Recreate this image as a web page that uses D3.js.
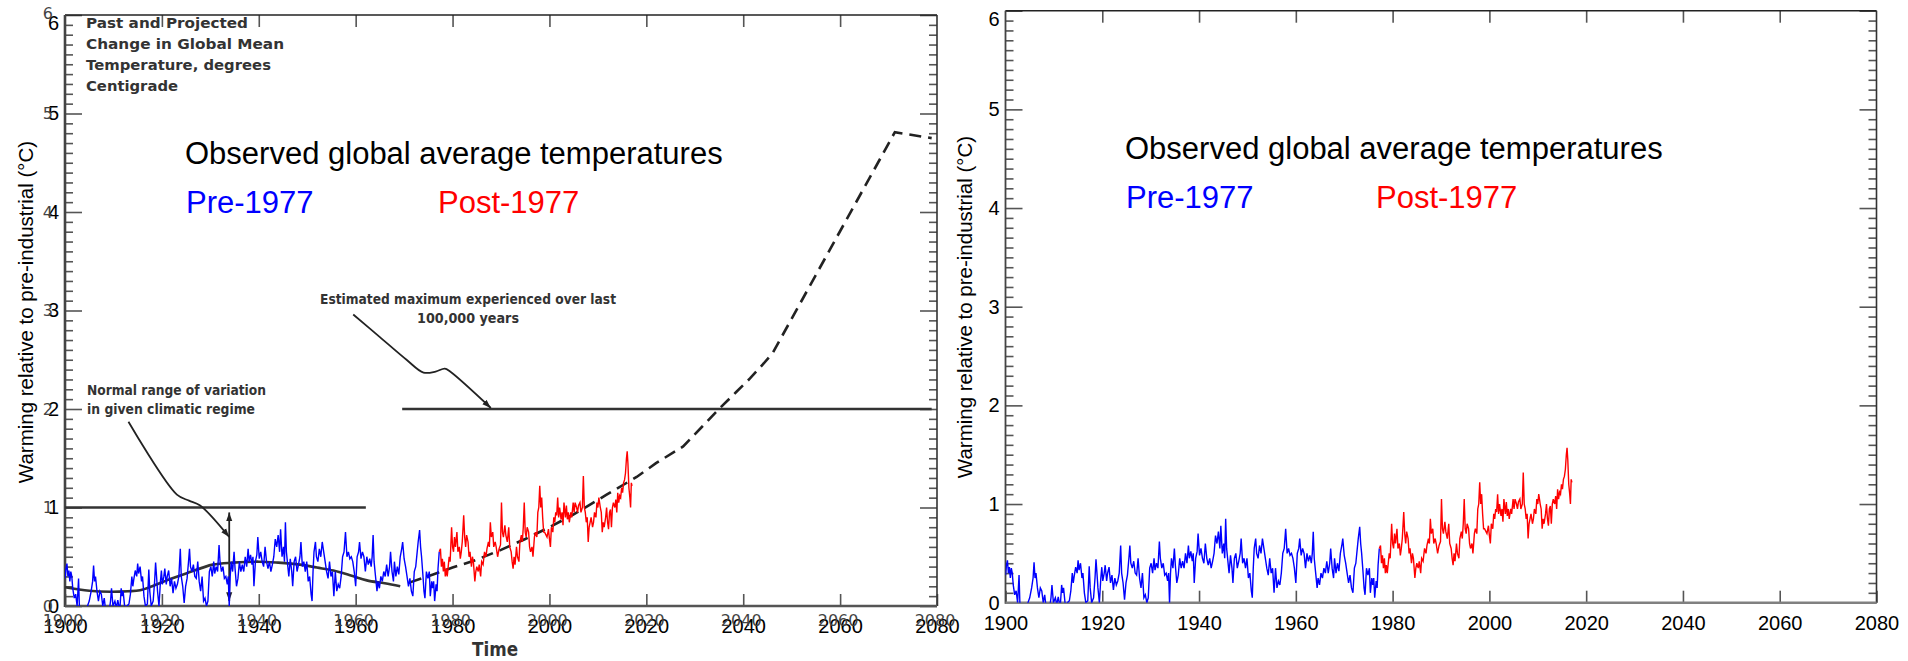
<!DOCTYPE html>
<html>
<head>
<meta charset="utf-8">
<style>
body { margin: 0; background: #fff; }
svg { display: block; }
</style>
</head>
<body>

<svg width="1908" height="661" id="chart"></svg>

<script src="https://cdnjs.cloudflare.com/ajax/libs/d3/7.8.5/d3.min.js"></script>
<script>
// observed global temperature, [year, warming degC]
var pre1977 = [[1900.0,0.28],[1900.2,0.38],[1900.4,0.43],[1900.6,0.3],[1900.8,0.36],[1901.0,0.25],[1901.2,0.35],[1901.4,0.3],[1901.6,0.18],[1901.9,0.08],[1902.2,0.12],[1902.5,0.0],[1902.8,0.28],[1903.0,-0.05],[1903.5,-0.1],[1904.0,-0.1],[1904.5,-0.02],[1905.0,0.05],[1905.4,0.15],[1905.7,0.25],[1905.9,0.41],[1906.1,0.25],[1906.3,0.3],[1906.6,0.15],[1906.9,0.05],[1907.2,0.15],[1907.5,0.12],[1907.8,0.0],[1908.1,0.08],[1908.4,-0.05],[1909.0,-0.1],[1909.4,0.05],[1909.6,0.18],[1909.9,0.0],[1910.3,0.05],[1910.6,-0.02],[1910.9,0.06],[1911.3,-0.05],[1911.6,0.18],[1911.8,0.1],[1912.0,0.15],[1912.4,-0.05],[1912.8,0.0],[1913.2,0.02],[1913.5,0.12],[1913.8,0.3],[1914.0,0.2],[1914.2,0.27],[1914.5,0.36],[1914.8,0.3],[1915.0,0.43],[1915.2,0.33],[1915.5,0.4],[1915.8,0.25],[1916.0,0.3],[1916.3,0.1],[1916.6,0.0],[1917.0,0.02],[1917.3,0.37],[1917.5,0.15],[1917.8,0.0],[1918.2,0.05],[1918.5,0.25],[1918.7,0.44],[1918.9,0.3],[1919.1,0.15],[1919.4,0.0],[1919.7,0.25],[1919.9,0.36],[1920.1,0.22],[1920.4,0.3],[1920.6,0.38],[1920.9,0.22],[1921.1,0.3],[1921.4,0.36],[1921.7,0.2],[1922.0,0.28],[1922.3,0.13],[1922.6,0.25],[1922.9,0.18],[1923.2,0.22],[1923.5,0.3],[1923.8,0.58],[1924.0,0.3],[1924.3,0.2],[1924.6,0.03],[1924.9,0.2],[1925.2,0.28],[1925.5,0.45],[1925.7,0.58],[1925.9,0.4],[1926.2,0.35],[1926.5,0.42],[1926.8,0.3],[1927.1,0.28],[1927.4,0.45],[1927.7,0.25],[1928.0,0.15],[1928.3,0.3],[1928.6,0.05],[1928.9,0.08],[1929.2,0.0],[1929.5,0.05],[1929.8,0.35],[1930.1,0.4],[1930.4,0.3],[1930.7,0.45],[1930.9,0.33],[1931.2,0.4],[1931.5,0.35],[1931.8,0.62],[1932.0,0.45],[1932.3,0.35],[1932.6,0.4],[1932.9,0.28],[1933.2,0.3],[1933.5,0.22],[1933.7,0.3],[1933.9,0.0],[1934.1,0.3],[1934.3,0.45],[1934.6,0.35],[1934.9,0.55],[1935.1,0.38],[1935.4,0.2],[1935.7,0.28],[1936.0,0.45],[1936.3,0.35],[1936.6,0.42],[1936.9,0.35],[1937.2,0.5],[1937.5,0.4],[1937.8,0.58],[1938.0,0.45],[1938.3,0.52],[1938.6,0.42],[1938.8,0.5],[1939.0,0.2],[1939.3,0.45],[1939.6,0.52],[1939.8,0.7],[1940.1,0.48],[1940.4,0.55],[1940.7,0.45],[1941.0,0.4],[1941.3,0.6],[1941.6,0.45],[1941.9,0.38],[1942.2,0.45],[1942.5,0.35],[1942.8,0.42],[1943.1,0.5],[1943.4,0.68],[1943.7,0.6],[1944.0,0.72],[1944.3,0.55],[1944.5,0.78],[1944.8,0.5],[1945.1,0.6],[1945.3,0.45],[1945.5,0.85],[1945.7,0.55],[1945.9,0.45],[1946.2,0.3],[1946.5,0.48],[1946.8,0.35],[1947.0,0.2],[1947.3,0.45],[1947.6,0.5],[1947.9,0.35],[1948.2,0.42],[1948.5,0.5],[1948.7,0.65],[1949.0,0.4],[1949.3,0.45],[1949.6,0.35],[1949.9,0.45],[1950.2,0.25],[1950.5,0.3],[1950.8,0.12],[1951.0,0.05],[1951.2,0.35],[1951.4,0.55],[1951.7,0.65],[1951.9,0.5],[1952.2,0.45],[1952.5,0.58],[1952.8,0.5],[1953.1,0.65],[1953.4,0.55],[1953.7,0.45],[1954.0,0.35],[1954.3,0.28],[1954.6,0.45],[1954.9,0.3],[1955.2,0.35],[1955.5,0.1],[1955.8,0.35],[1956.1,0.15],[1956.4,0.22],[1956.7,0.18],[1957.0,0.3],[1957.3,0.5],[1957.6,0.55],[1957.9,0.75],[1958.2,0.5],[1958.5,0.55],[1958.8,0.48],[1959.1,0.5],[1959.4,0.45],[1959.7,0.35],[1960.0,0.2],[1960.3,0.5],[1960.6,0.55],[1960.8,0.65],[1961.1,0.48],[1961.4,0.55],[1961.7,0.5],[1962.0,0.35],[1962.3,0.5],[1962.6,0.42],[1962.9,0.48],[1963.2,0.4],[1963.4,0.5],[1963.6,0.72],[1963.8,0.45],[1964.1,0.3],[1964.4,0.15],[1964.6,0.25],[1964.9,0.18],[1965.2,0.3],[1965.5,0.25],[1965.8,0.35],[1966.1,0.3],[1966.4,0.42],[1966.7,0.3],[1967.0,0.4],[1967.2,0.55],[1967.5,0.35],[1967.8,0.25],[1968.0,0.45],[1968.3,0.3],[1968.6,0.4],[1968.9,0.32],[1969.2,0.5],[1969.5,0.58],[1969.7,0.65],[1970.0,0.48],[1970.3,0.4],[1970.6,0.3],[1970.9,0.2],[1971.2,0.28],[1971.5,0.15],[1971.8,0.1],[1972.1,0.35],[1972.4,0.4],[1972.7,0.55],[1972.9,0.65],[1973.2,0.77],[1973.4,0.6],[1973.6,0.5],[1973.9,0.3],[1974.1,0.15],[1974.3,0.08],[1974.6,0.35],[1974.9,0.28],[1975.2,0.35],[1975.4,0.1],[1975.7,0.25],[1975.9,0.18],[1976.1,0.25],[1976.3,0.05],[1976.6,0.22],[1976.8,0.15],[1977.0,0.38],[1977.25,0.55]];

var post1977 = [[1977.25,0.55],[1977.5,0.58],[1977.7,0.4],[1977.9,0.48],[1978.1,0.35],[1978.3,0.45],[1978.5,0.3],[1978.7,0.38],[1978.9,0.3],[1979.1,0.4],[1979.3,0.5],[1979.5,0.45],[1979.8,0.8],[1980.0,0.6],[1980.2,0.55],[1980.4,0.7],[1980.6,0.6],[1980.9,0.75],[1981.1,0.55],[1981.4,0.6],[1981.6,0.48],[1981.8,0.55],[1982.0,0.65],[1982.3,0.92],[1982.5,0.7],[1982.7,0.6],[1982.9,0.72],[1983.2,0.65],[1983.4,0.5],[1983.6,0.55],[1983.9,0.4],[1984.1,0.5],[1984.3,0.45],[1984.6,0.25],[1984.8,0.35],[1985.0,0.4],[1985.3,0.35],[1985.5,0.42],[1985.8,0.3],[1986.0,0.45],[1986.3,0.42],[1986.6,0.55],[1986.9,0.5],[1987.1,0.58],[1987.4,0.65],[1987.6,0.6],[1987.8,0.85],[1988.0,0.7],[1988.3,0.75],[1988.5,0.6],[1988.8,0.65],[1989.0,0.6],[1989.3,0.5],[1989.6,0.58],[1989.9,0.62],[1990.1,1.05],[1990.3,0.75],[1990.5,0.7],[1990.8,0.82],[1991.0,0.72],[1991.3,0.65],[1991.6,0.8],[1991.8,0.6],[1992.1,0.55],[1992.3,0.45],[1992.5,0.38],[1992.7,0.5],[1992.9,0.42],[1993.2,0.6],[1993.4,0.5],[1993.7,0.45],[1993.9,0.65],[1994.2,0.72],[1994.4,0.65],[1994.6,0.8],[1994.8,1.05],[1995.0,0.75],[1995.2,0.7],[1995.4,0.8],[1995.7,0.75],[1995.9,0.6],[1996.1,0.55],[1996.4,0.6],[1996.6,0.5],[1996.9,0.7],[1997.1,0.75],[1997.4,0.7],[1997.6,0.95],[1997.8,1.0],[1998.0,1.22],[1998.2,1.0],[1998.4,1.1],[1998.6,0.9],[1998.8,0.75],[1999.0,0.75],[1999.3,0.72],[1999.5,0.7],[1999.8,0.78],[2000.0,0.68],[2000.2,0.6],[2000.4,0.8],[2000.7,0.75],[2000.9,0.9],[2001.1,0.85],[2001.3,0.95],[2001.5,0.92],[2001.7,1.1],[2001.9,0.9],[2002.1,1.0],[2002.4,0.88],[2002.6,0.95],[2002.8,0.82],[2003.0,1.05],[2003.3,0.9],[2003.5,1.02],[2003.7,0.88],[2003.9,0.95],[2004.1,0.85],[2004.4,0.95],[2004.6,0.9],[2004.9,1.05],[2005.1,0.95],[2005.3,1.05],[2005.6,1.0],[2005.8,0.95],[2006.0,1.02],[2006.3,1.05],[2006.5,0.95],[2006.8,1.0],[2007.0,1.32],[2007.2,1.0],[2007.4,0.95],[2007.6,0.85],[2007.8,0.9],[2008.0,0.65],[2008.2,0.8],[2008.4,0.85],[2008.6,0.9],[2008.9,0.8],[2009.1,0.85],[2009.3,0.95],[2009.6,0.9],[2009.8,1.05],[2010.0,1.0],[2010.2,1.1],[2010.5,1.0],[2010.7,0.95],[2010.9,0.75],[2011.1,0.85],[2011.3,0.8],[2011.6,0.9],[2011.8,1.0],[2012.0,0.85],[2012.2,0.78],[2012.4,0.95],[2012.6,0.98],[2012.8,0.8],[2013.0,1.0],[2013.2,1.05],[2013.5,1.0],[2013.7,1.08],[2013.9,0.95],[2014.1,1.15],[2014.3,1.05],[2014.5,1.12],[2014.7,1.1],[2014.9,1.2],[2015.1,1.15],[2015.3,1.25],[2015.5,1.28],[2015.7,1.35],[2015.9,1.5],[2016.05,1.57],[2016.2,1.45],[2016.4,1.2],[2016.6,1.1],[2016.75,1.0],[2016.9,1.25],[2017.05,1.22]];

// the 1982 projection underneath (left panel only)
var projPast = [[1900,0.19],[1905,0.155],[1909.5,0.145],[1913,0.15],[1915.5,0.16],[1918,0.2],[1921,0.26],[1925,0.33],[1930.5,0.42],[1934.7,0.44],[1940,0.45],[1944,0.44],[1948.5,0.42],[1952,0.39],[1955.4,0.36],[1959,0.31],[1962.3,0.26],[1966,0.23],[1969.2,0.2]];
var projFuture = [[1971.2,0.24],[1976,0.32],[1980,0.39],[1985,0.47],[1990,0.57],[1995,0.68],[2000,0.8],[2005,0.93],[2011.8,1.13],[2018,1.31],[2022,1.45],[2027.6,1.62],[2031.5,1.82],[2035.2,2.01],[2038.5,2.17],[2041.4,2.31],[2044,2.45],[2046.1,2.57],[2071.3,4.81],[2078.9,4.75]];
var normalLevel = [[1900,1],[1962.1,1]];
var maxLevel = [[1969.6,2],[2078.9,2]];
var normalRange = [[1933.9,0.05],[1933.9,0.95]];
var normalPointer = [[1913.1,1.87],[1923.1,1.13],[1925.6,1.07],[1927.9,1.02],[1933.9,0.7]];
var maxPointer = [[1959.5,2.96],[1965.0,2.73],[1970.5,2.5],[1974.0,2.37],[1976.5,2.38],[1978.4,2.41],[1979.5,2.38],[1987.9,2.01]];

var xTicks = [1900,1920,1940,1960,1980,2000,2020,2040,2060,2080];
var yTicks = [0,1,2,3,4,5,6];
var titleLines = ["Past and Projected","Change in Global Mean","Temperature, degrees","Centigrade"];
var normalLabel = ["Normal range of variation","in given climatic regime"];
var maxLabel = ["Estimated maximum experienced over last","100,000 years"];
var timeLabel = "Time";
var yLabel = "Warming relative to pre-industrial (\u00B0C)";
var heading = "Observed global average temperatures";
var seriesNames = ["Pre-1977","Post-1977"];

var arial = "'Liberation Sans', Arial, sans-serif";
var scan = "'DejaVu Sans', sans-serif";
var svg = d3.select("#chart");

svg.append("defs").append("marker")
    .attr("id","tip").attr("viewBox","0 -4 10 8").attr("refX",10).attr("refY",0)
    .attr("markerWidth",9).attr("markerHeight",7).attr("markerUnits","userSpaceOnUse")
    .attr("orient","auto-start-reverse")
  .append("path").attr("d","M0,-3.5L10,0L0,3.5Z").attr("fill","#222");

var minorTicks = d3.range(1,60).filter(function(i){ return i % 10; }).map(function(i){ return i/10; });

function drawPanel(id, left, right, bottom, top, scanned) {
    var x = d3.scaleLinear().domain([1900,2080]).range([left,right]);
    var y = d3.scaleLinear().domain([0,6]).range([bottom,top]);
    var g = svg.append("g").attr("id", id);

    g.append("clipPath").attr("id", id+"-clip").append("rect")
        .attr("x", left).attr("y", top).attr("width", right-left).attr("height", bottom-top);

    function frame(x1,y1,x2,y2,col,w) {
        g.append("line").attr("x1",x1).attr("y1",y1).attr("x2",x2).attr("y2",y2)
            .attr("stroke",col).attr("stroke-width",w);
    }

    g.append("g").attr("transform","translate(0,"+bottom+")")
        .call(d3.axisBottom(x).tickValues(xTicks).tickSize(-12).tickSizeOuter(0).tickPadding(13).tickFormat(d3.format("d")));
    g.append("g").attr("transform","translate(0,"+top+")")
        .call(d3.axisTop(x).tickValues(xTicks.slice(1,-1)).tickSize(-12).tickSizeOuter(0).tickFormat(""));
    var lAxis = g.append("g").attr("transform","translate("+left+",0)")
        .call(d3.axisLeft(y).tickValues(yTicks).tickSize(-17).tickSizeOuter(0).tickPadding(6).tickFormat(d3.format("d")));
    g.append("g").attr("transform","translate("+left+",0)")
        .call(d3.axisLeft(y).tickValues(minorTicks).tickSize(-8).tickSizeOuter(0).tickFormat(""));
    g.append("g").attr("transform","translate("+right+",0)")
        .call(d3.axisRight(y).tickValues(yTicks).tickSize(-17).tickSizeOuter(0).tickFormat(""));
    g.append("g").attr("transform","translate("+right+",0)")
        .call(d3.axisRight(y).tickValues(minorTicks).tickSize(-8).tickSizeOuter(0).tickFormat(""));

    g.selectAll(".domain").remove();
    g.selectAll(".tick line").attr("stroke","#555").attr("stroke-width",1.6);
    g.selectAll(".tick text").attr("font-family",arial).attr("font-size",20).attr("fill","#000");
    lAxis.selectAll(".tick text").filter(function(d){ return d === 6; }).attr("dy","0.72em");

    frame(left, top, right, top, "#222", 1.4);
    frame(right, top, right, bottom, "#333", 1.6);
    frame(left, top, left, bottom+1, "#444", scanned ? 2.6 : 1.8);
    frame(left, bottom, right, bottom, scanned ? "#555" : "#808080", 2.6);

    if (scanned) {
        // labels of the scanned figure, a little offset from the overlaid ones
        g.append("g").selectAll("text").data(xTicks).enter().append("text")
            .attr("x", function(d){ return x(d) - 2; }).attr("y", bottom + 20)
            .attr("text-anchor","middle").attr("font-family",scan).attr("font-size",16).attr("fill","#444")
            .text(function(d){ return d; });
        g.append("g").selectAll("text").data(yTicks).enter().append("text")
            .attr("x", left - 12).attr("y", function(d){ return d === 6 ? y(d) - 2 : y(d); }).attr("dy","0.36em")
            .attr("text-anchor","end").attr("font-family",scan).attr("font-size",16).attr("fill","#444")
            .text(function(d){ return d; });
        g.append("text").attr("x", 495).attr("y", 656).attr("text-anchor","middle")
            .attr("font-family",scan).attr("font-weight","bold").attr("font-size",19).attr("fill","#333")
            .attr("textLength",46).attr("lengthAdjust","spacingAndGlyphs").text(timeLabel);

        var tWidths = [162,198,185,92];
        g.append("g").selectAll("text").data(titleLines).enter().append("text")
            .attr("x", 86).attr("y", function(d,i){ return 27.5 + i*21; })
            .attr("font-family",scan).attr("font-weight","bold").attr("font-size",14.5).attr("fill","#333")
            .attr("textLength", function(d,i){ return tWidths[i]; }).attr("lengthAdjust","spacingAndGlyphs")
            .text(function(d){ return d; });

        var nWidths = [179,168];
        g.append("g").selectAll("text").data(normalLabel).enter().append("text")
            .attr("x", 87).attr("y", function(d,i){ return 395 + i*18.5; })
            .attr("font-family",scan).attr("font-weight","bold").attr("font-size",13.5).attr("fill","#333")
            .attr("textLength", function(d,i){ return nWidths[i]; }).attr("lengthAdjust","spacingAndGlyphs")
            .text(function(d){ return d; });

        var mWidths = [296,102];
        g.append("g").selectAll("text").data(maxLabel).enter().append("text")
            .attr("x", 468).attr("y", function(d,i){ return 303.5 + i*19; }).attr("text-anchor","middle")
            .attr("font-family",scan).attr("font-weight","bold").attr("font-size",14).attr("fill","#333")
            .attr("textLength", function(d,i){ return mWidths[i]; }).attr("lengthAdjust","spacingAndGlyphs")
            .text(function(d){ return d; });

        var straight = d3.line().x(function(d){ return x(d[0]); }).y(function(d){ return y(d[1]); });
        var smooth = d3.line().curve(d3.curveCatmullRom.alpha(0.5))
            .x(function(d){ return x(d[0]); }).y(function(d){ return y(d[1]); });

        [normalLevel, maxLevel].forEach(function(lv){
            g.append("path").attr("d", straight(lv)).attr("fill","none").attr("stroke","#333").attr("stroke-width",2.4);
        });
        g.append("path").attr("d", straight(normalRange)).attr("fill","none").attr("stroke","#222")
            .attr("stroke-width",1.8).attr("marker-start","url(#tip)").attr("marker-end","url(#tip)");
        [normalPointer, maxPointer].forEach(function(p){
            g.append("path").attr("d", smooth(p)).attr("fill","none").attr("stroke","#222")
                .attr("stroke-width",1.8).attr("marker-end","url(#tip)");
        });
        g.append("path").attr("d", smooth(projPast)).attr("fill","none").attr("stroke","#333").attr("stroke-width",2.6);
        g.append("path").attr("d", straight(projFuture)).attr("fill","none").attr("stroke","#222")
            .attr("stroke-width",2.6).attr("stroke-dasharray","12,7");
    }

    var line = d3.line().x(function(d){ return x(d[0]); }).y(function(d){ return y(d[1]); });
    var data = g.append("g").attr("clip-path","url(#"+id+"-clip)");
    data.append("path").attr("d", line(pre1977)).attr("fill","none").attr("stroke","#0000ff").attr("stroke-width",1.4);
    data.append("path").attr("d", line(post1977)).attr("fill","none").attr("stroke","#ff0000").attr("stroke-width",1.4);

    return g;
}

function drawTexts(g, yLabX, yLabY, hx, hy, postX) {
    g.append("text").attr("transform","translate("+yLabX+","+yLabY+") rotate(-90)")
        .attr("text-anchor","middle").attr("font-family",arial).attr("font-size",20.5).text(yLabel);
    g.append("text").attr("x", hx).attr("y", hy).attr("font-family",arial).attr("font-size",31).text(heading);
    g.append("text").attr("x", hx+1).attr("y", hy+49).attr("font-family",arial).attr("font-size",31)
        .attr("fill","#0000ff").text(seriesNames[0]);
    g.append("text").attr("x", postX).attr("y", hy+49).attr("font-family",arial).attr("font-size",31)
        .attr("fill","#ff0000").text(seriesNames[1]);
}

var leftPanel = drawPanel("exxon", 65, 937, 606, 15, true);
drawTexts(leftPanel, 33, 312, 185, 163.5, 438);

var rightPanel = drawPanel("observed", 1005.5, 1876.5, 602.7, 10.7, false);
drawTexts(rightPanel, 972, 307, 1125, 158.5, 1376);
</script>

</body>
</html>
